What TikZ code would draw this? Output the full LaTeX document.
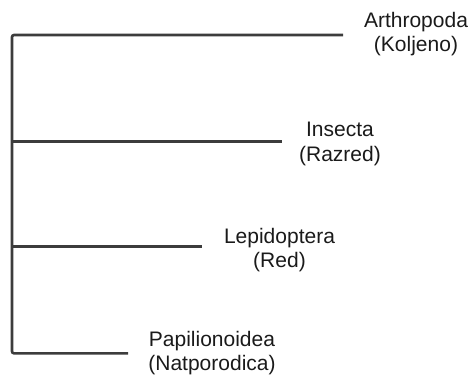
\documentclass[tikz,border=0pt]{standalone}
\usepackage{fontspec}
\setmainfont{Liberation Sans}
\definecolor{linegray}{HTML}{3C3C3C}
\definecolor{textgray}{HTML}{1A1A1A}
\begin{document}
\begin{tikzpicture}[x=1pt,y=-1pt,
  branch/.style={draw=linegray,line width=2.6pt,line cap=butt},
  taxon/.style={align=center,inner sep=0pt,text=textgray,font=\fontsize{21}{24.5}\selectfont}]
\useasboundingbox (0,0) rectangle (470,376);
% spine corners and branch ends
\coordinate (c1) at (12,35);
\coordinate (c2) at (12,141.7);
\coordinate (c3) at (12,246.7);
\coordinate (c4) at (12,353.3);
\coordinate (e1) at (343,35);
\coordinate (e2) at (282,141.7);
\coordinate (e3) at (202,246.7);
\coordinate (e4) at (128,353.3);
% labels
\node[taxon] (arth) at (416,34) {Arthropoda\\(Koljeno)};
\node[taxon] (ins) at (340,144) {Insecta\\(Razred)};
\node[taxon] (lep) at (279.5,250) {Lepidoptera\\(Red)};
\node[taxon] (pap) at (212,353) {Papilionoidea\\(Natporodica)};
% tree
\draw[branch,rounded corners=2pt] (e1) -- (c1) -- (c4) -- (e4);
\draw[branch] (c2) -- (e2);
\draw[branch] (c3) -- (e3);
\end{tikzpicture}
\end{document}
